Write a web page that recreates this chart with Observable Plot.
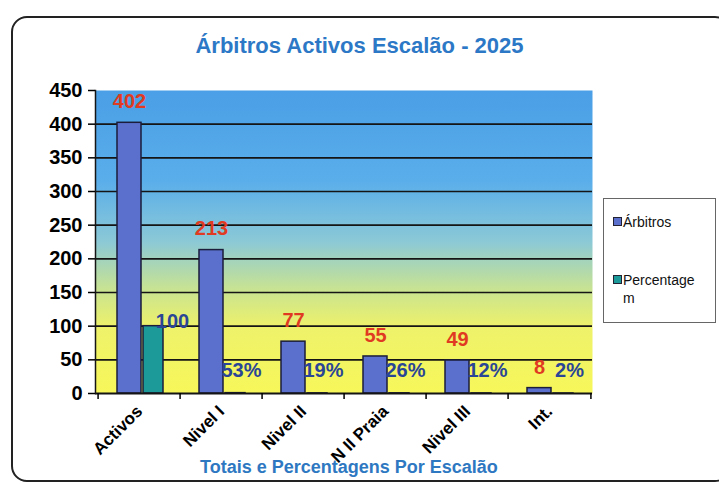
<!DOCTYPE html>
<html>
<head>
<meta charset="utf-8">
<script src="https://cdn.jsdelivr.net/npm/d3@7"></script>
<script src="https://cdn.jsdelivr.net/npm/@observablehq/plot@0.6"></script>
<style>
  html, body { margin: 0; padding: 0; background: #fff; }
  #wrap { position: relative; width: 719px; height: 487px; overflow: hidden; font-family: "Liberation Sans", Arial, sans-serif; }
  #border { position: absolute; left: 11px; top: 16px; width: 720px; height: 466px; border: 2px solid #222; border-radius: 16px; box-sizing: border-box; }
  #title { position: absolute; left: 0; width: 719px; top: 33px; text-align: center; font-family: "Liberation Sans Narrow", "Arial Narrow", "Liberation Sans", sans-serif; font-weight: bold; font-size: 22px; color: #2c78c6; }
  #xtitle { position: absolute; left: 200px; top: 457px; font-weight: bold; font-size: 18px; color: #2e78c2; white-space: nowrap; }
  #chart { position: absolute; left: 0; top: 0; }
  #legend { position: absolute; left: 603px; top: 198px; width: 113px; height: 125px; border: 1px solid #666; box-sizing: border-box; background: #fff; font-size: 14px; color: #111; }
  .item { position: absolute; left: 9px; display: flex; align-items: flex-start; }
  .sw { width: 7px; height: 7px; border: 1px solid #223; margin-top: 4px; margin-right: 1px; flex: none; }
  .lab { width: 76px; word-break: break-all; line-height: 18px; }
</style>
</head>
<body>
<svg width="0" height="0" style="position:absolute">
  <defs>
    <linearGradient id="bg" x1="0" y1="0" x2="0" y2="1">
      <stop offset="0" stop-color="#4a9fe6"/>
      <stop offset="0.3" stop-color="#5aaeea"/>
      <stop offset="0.5" stop-color="#8cc9d6"/>
      <stop offset="0.65" stop-color="#c6e294"/>
      <stop offset="0.78" stop-color="#eef26a"/>
      <stop offset="1" stop-color="#f7f75a"/>
    </linearGradient>
  </defs>
</svg>
<div id="wrap">
  <div id="border"></div>
  <div id="title">Árbitros Activos Escalão - 2025</div>
  <div id="chart"></div>
  <div id="xtitle">Totais e Percentagens Por Escalão</div>
  <div id="legend">
    <div class="item" style="top:14px"><div class="sw" style="background:#5a70cc"></div><div class="lab">Árbitros</div></div>
    <div class="item" style="top:72px"><div class="sw" style="background:#1c9a9a"></div><div class="lab">Percentagem</div></div>
  </div>
</div>
<script>
const categories = ["Activos", "Nivel I", "Nivel II", "N II Praia", "Nivel III", "Int."];
const arbitros = [402, 213, 77, 55, 49, 8];
const percentagem = [100, 0.53, 0.19, 0.26, 0.12, 0.02];
const pctLabels = ["100", "53%", "19%", "26%", "12%", "2%"];
const yTicks = [0, 50, 100, 150, 200, 250, 300, 350, 400, 450];

const data = categories.map((c, i) => ({cat: c, arb: arbitros[i], pct: percentagem[i], pl: pctLabels[i]}));
const half = 497 / 6 / 2;

const chart = Plot.plot({
  width: 600,
  height: 487,
  marginTop: 90,
  marginBottom: 94,
  marginLeft: 95,
  marginRight: 8,
  x: {domain: categories, padding: 0, axis: null},
  y: {domain: [0, 450], axis: null},
  style: {background: "transparent", overflow: "visible", fontFamily: "Liberation Sans, Arial, sans-serif"},
  marks: [
    Plot.frame({fill: "url(#bg)", stroke: "none"}),
    Plot.ruleY(yTicks.filter(t => t > 0 && t < 450), {stroke: "#151515", strokeWidth: 1.6}),
    Plot.barY(data, {x: "cat", y: "arb", fill: "#5a70cc", stroke: "#1b1d3a", strokeWidth: 1.5, insetLeft: 19, insetRight: 39}),
    Plot.barY(data, {x: "cat", y: "pct", fill: "#1c9a9a", stroke: "#1b1d3a", strokeWidth: 1.5, insetLeft: 45, insetRight: 17}),
    Plot.ruleY([0], {stroke: "#151515", strokeWidth: 2}),
    Plot.frame({anchor: "left", stroke: "#151515", strokeWidth: 1.5}),
    Plot.axisY({ticks: yTicks, tickSize: 7, tickPadding: 6, fontSize: 20, fontWeight: "bold", fill: "#000", label: null, strokeWidth: 1.5}),
    Plot.axisX({ticks: categories, tickSize: 6, tickFormat: () => "", dx: -half, strokeWidth: 1.5, label: null}),
    Plot.axisX({ticks: categories.slice(-1), tickSize: 6, tickFormat: () => "", dx: half, strokeWidth: 1.5, label: null}),
    Plot.axisX({ticks: categories, tickSize: 0, tickPadding: 14, tickRotate: -45, fontSize: 17, fontWeight: "bold", fill: "#000", dy: 1, label: null}),
    Plot.text(data, {x: "cat", y: "arb", text: d => String(d.arb), dx: -10, dy: -21, fill: "#e03a22", fontSize: 20, fontWeight: "bold"}),
    Plot.text(data, {filter: d => d.pct > 50, x: "cat", y: "pct", text: "pl", dx: 33, dy: -5, fill: "#2a4596", fontSize: 20, fontWeight: "bold"}),
    Plot.text(data, {filter: d => d.pct <= 50, x: "cat", y: "pct", text: "pl", dx: 20, dy: -23, fill: "#2a4596", fontSize: 20, fontWeight: "bold"})
  ]
});
document.getElementById("chart").appendChild(chart);
</script>
</body>
</html>
